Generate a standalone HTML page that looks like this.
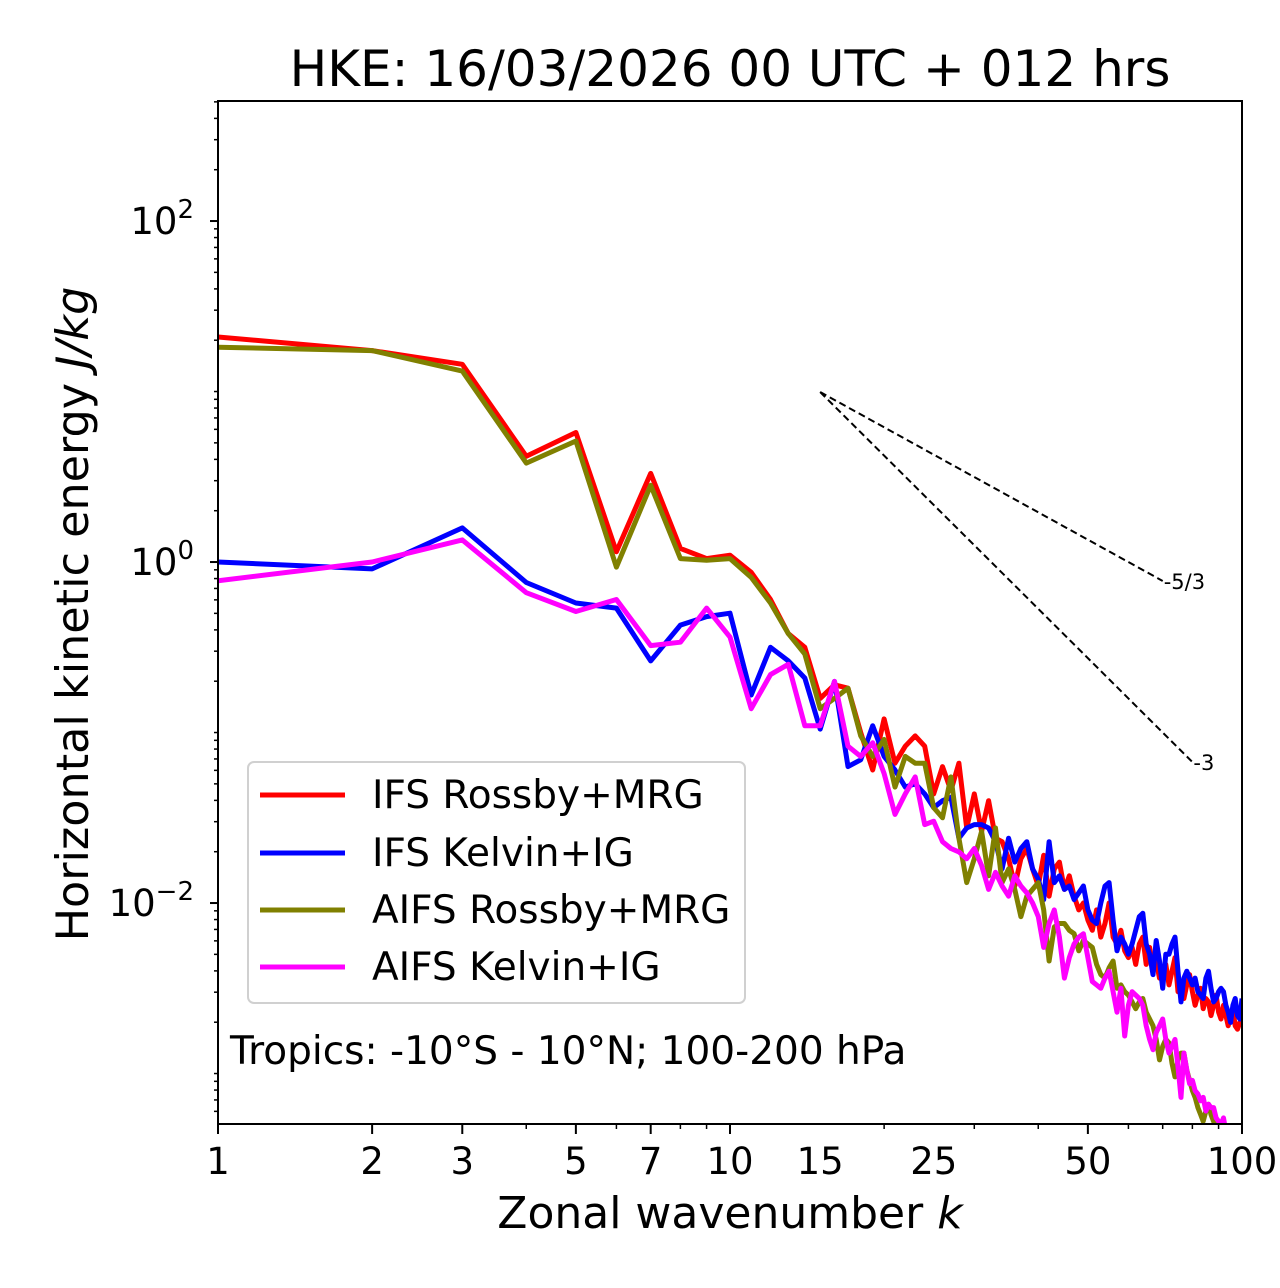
<!DOCTYPE html>
<html><head><meta charset="utf-8"><style>
body{margin:0;background:#fff}
svg{display:block;font-family:"DejaVu Sans","Liberation Sans",sans-serif}
</style></head><body>
<svg id="chart" width="1280" height="1288" viewBox="0 0 1280 1288" xmlns="http://www.w3.org/2000/svg">
<rect width="1280" height="1288" fill="#fff"/>
<text x="730" y="86" font-size="50" text-anchor="middle">HKE: 16/03/2026 00 UTC + 012 hrs</text>
<defs><clipPath id="plotclip"><rect x="218" y="101" width="1024" height="1023"/></clipPath></defs>
<g id="ticks"></g>
<g id="series" clip-path="url(#plotclip)"></g>
<rect x="218" y="101" width="1024" height="1023" fill="none" stroke="#000" stroke-width="2"/>
<text x="730" y="1228" font-size="44" text-anchor="middle">Zonal wavenumber <tspan font-style="italic">k</tspan></text>
<text transform="translate(88,614) rotate(-90)" font-size="44.5" text-anchor="middle">Horizontal kinetic energy <tspan font-style="italic">J/kg</tspan></text>
<g>
<rect x="248" y="762" width="497" height="241" rx="6" fill="#fff" fill-opacity="0.8" stroke="#d0d0d0" stroke-width="2"/>
<line x1="260" y1="795" x2="345" y2="795" stroke="#ff0000" stroke-width="5"/>
<text x="372" y="808" font-size="39">IFS Rossby+MRG</text>
<line x1="260" y1="853" x2="345" y2="853" stroke="#0000ff" stroke-width="5"/>
<text x="372" y="866" font-size="39">IFS Kelvin+IG</text>
<line x1="260" y1="910" x2="345" y2="910" stroke="#808000" stroke-width="5"/>
<text x="372" y="923" font-size="39">AIFS Rossby+MRG</text>
<line x1="260" y1="967" x2="345" y2="967" stroke="#ff00ff" stroke-width="5"/>
<text x="372" y="980" font-size="39">AIFS Kelvin+IG</text>
</g>
<text x="230" y="1064" font-size="39">Tropics: -10°S - 10°N; 100-200 hPa</text>
</svg>
<script>
// log10 energy values (J/kg) for k = 1..100
const ifsRossby=[1.32,1.24,1.16,0.62,0.76,0.06,0.52,0.08,0.02,0.04,
-0.06,-0.22,-0.42,-0.50,-0.80,-0.72,-0.74,-1.00,-1.22,-0.92,
-1.18,-1.08,-1.02,-1.08,-1.36,-1.20,-1.34,-1.18,-1.56,-1.36,
-1.58,-1.40,-1.62,-1.64,-1.74,-1.90,-1.74,-1.68,-1.80,-1.90,
-1.72,-1.96,-1.80,-1.76,-1.92,-1.84,-1.96,-2.04,-2.00,-2.10,
-2.16,-2.04,-2.20,-2.12,-2.00,-2.20,-2.24,-2.16,-2.28,-2.32,
-2.26,-2.36,-2.24,-2.20,-2.36,-2.26,-2.40,-2.34,-2.44,-2.38,
-2.36,-2.48,-2.40,-2.32,-2.52,-2.46,-2.56,-2.48,-2.42,-2.52,
-2.60,-2.54,-2.50,-2.62,-2.56,-2.58,-2.66,-2.60,-2.54,-2.64,
-2.68,-2.60,-2.66,-2.72,-2.66,-2.62,-2.72,-2.74,-2.70,-2.72];
const ifsKelvin=[0,-0.04,0.20,-0.12,-0.24,-0.27,-0.58,-0.37,-0.32,-0.30,
-0.78,-0.50,-0.58,-0.68,-0.98,-0.70,-1.20,-1.16,-0.96,-1.14,
-1.22,-1.32,-1.30,-1.36,-1.44,-1.40,
-1.38,-1.62,-1.56,-1.54,-1.54,-1.56,-1.64,-1.80,-1.62,-1.76,-1.68,-1.64,-1.80,-1.86,
-1.98,-1.64,-1.88,-1.84,-1.92,-1.90,-1.98,-1.94,-1.90,-2.04,
-2.10,-2.12,-2.00,-1.90,-1.88,-2.10,-2.28,-2.20,-2.24,-2.30,
-2.24,-2.16,-2.08,-2.06,-2.24,-2.30,-2.42,-2.22,-2.34,-2.50,
-2.30,-2.30,-2.24,-2.20,-2.40,-2.58,-2.44,-2.40,-2.44,-2.48,
-2.44,-2.52,-2.54,-2.56,-2.44,-2.40,-2.50,-2.58,-2.56,-2.52,
-2.50,-2.52,-2.60,-2.64,-2.70,-2.60,-2.56,-2.66,-2.68,-2.56];
const aifsRossby=[1.26,1.24,1.12,0.58,0.71,-0.03,0.45,0.02,0.01,0.02,
-0.09,-0.24,-0.42,-0.54,-0.86,-0.80,-0.74,-1.02,-1.14,-1.04,
-1.32,-1.14,-1.18,-1.18,-1.44,-1.50,-1.26,-1.62,
-1.88,-1.74,-1.58,-1.84,-1.56,-1.88,-1.80,-1.92,-2.08,-1.96,-1.92,-1.88,
-2.04,-2.34,-2.14,-2.12,-2.12,-2.16,-2.18,-2.28,-2.22,-2.24,
-2.26,-2.36,-2.42,-2.44,-2.38,-2.34,-2.50,-2.48,-2.52,-2.54,
-2.58,-2.62,-2.58,-2.56,-2.64,-2.68,-2.72,-2.80,-2.92,-2.84,
-2.80,-2.82,-2.94,-3.02,-2.92,-2.88,-2.88,-2.98,-3.04,-3.10,
-3.14,-3.20,-3.24,-3.28,-3.22,-3.18,-3.24,-3.28,-3.32,-3.36,
-3.34,-3.40,-3.44,-3.42,-3.48,-3.52,-3.56,-3.54,-3.60,-3.64];
const aifsKelvin=[-0.11,0,0.13,-0.18,-0.29,-0.22,-0.49,-0.47,-0.27,-0.44,
-0.86,-0.66,-0.60,-0.96,-0.96,-0.70,-1.08,-1.14,-1.06,-1.24,
-1.48,-1.36,-1.26,-1.54,-1.52,
-1.64,-1.68,-1.70,-1.74,-1.68,-1.78,-1.92,-1.82,-1.90,-1.96,
-1.84,-1.90,-1.94,-2.00,-2.08,-2.26,-2.12,-2.04,-2.20,-2.44,
-2.32,-2.24,-2.20,-2.18,-2.32,-2.46,-2.48,-2.50,-2.44,-2.40,
-2.52,-2.64,-2.50,-2.78,-2.60,-2.52,-2.54,-2.56,-2.60,-2.72,
-2.80,-2.86,-2.76,-2.72,-2.68,-2.80,-2.88,-2.84,-2.80,-2.96,
-3.14,-2.88,-2.98,-3.06,-3.04,-3.10,-3.12,-3.16,-3.14,-3.22,
-3.18,-3.20,-3.20,-3.26,-3.28,-3.30,-3.26,-3.34,-3.32,-3.40,
-3.44,-3.48,-3.50,-3.54,-3.58];
const xTickLabels=[1,2,3,5,7,10,15,25,50,100];
const yTickExps=[-2,0,2];
const refK=[15,70,80];
const refLog=[0.997,-0.111,-1.173];

const NS="http://www.w3.org/2000/svg";
const X0=218,X1=1242,Y0=101,Y1=1124;
const yMin=-3.296,yMax=2.704;
function xs(k){return X0+(X1-X0)*Math.log10(k)/2;}
function ys(lg){return Y1-(Y1-Y0)*(lg-yMin)/(yMax-yMin);}
function mk(tag,attrs,parent){const e=document.createElementNS(NS,tag);for(const a in attrs)e.setAttribute(a,attrs[a]);parent.appendChild(e);return e;}

const tg=document.getElementById('ticks');
for(let d=0;d<2;d++)for(let m=1;m<10;m++){
  const k=m*Math.pow(10,d);const x=xs(k);
  const lab=xTickLabels.includes(k);
  const t=mk('line',{x1:x,x2:x,y1:Y1,y2:Y1+(lab?10:5),stroke:'#000','stroke-width':lab?2:1.5},tg);
  
  
}
{const t=mk('line',{x1:X1,x2:X1,y1:Y1,y2:Y1+10,stroke:'#000','stroke-width':2},tg);

}
xTickLabels.forEach(k=>{
  const t=mk('text',{x:xs(k),y:1174,'font-size':37,'text-anchor':'middle'},tg);
  t.textContent=k;
  
  
});
for(let e=-4;e<=2;e++)for(let m=1;m<10;m++){
  const lg=e+Math.log10(m);if(lg<yMin||lg>yMax)continue;
  const y=ys(lg);const major=(m===1&&e%2===0);
  const t=mk('line',{x1:X0-(major?8:4),x2:X0,y1:y,y2:y,stroke:'#000','stroke-width':major?2:1.5},tg);
  
  
}
yTickExps.forEach(e=>{
  const t=mk('text',{x:194,y:ys(e)+13,'font-size':37,'text-anchor':'end'},tg);
  t.textContent='10';
  const s=mk('tspan',{dy:-16,'font-size':26},t);
  s.textContent=e<0?'\u2212'+(-e):String(e);
  
  
});

const sg=document.getElementById('series');
[['ifs-rossby-line',ifsRossby,'#ff0000'],['ifs-kelvin-line',ifsKelvin,'#0000ff'],['aifs-rossby-line',aifsRossby,'#808000'],['aifs-kelvin-line',aifsKelvin,'#ff00ff']].forEach(([n,arr,c])=>{
  const pts=arr.map((v,i)=>xs(i+1).toFixed(1)+','+ys(v).toFixed(1)).join(' ');
  const p=mk('polyline',{points:pts,fill:'none',stroke:c,'stroke-width':5,'stroke-linejoin':'round'},sg);
  
  
});
[[1,'-5/3'],[2,'-3']].forEach(([i,lab])=>{
  const l=mk('line',{x1:xs(refK[0]),y1:ys(refLog[0]),x2:xs(refK[i]),y2:ys(refLog[i]),stroke:'#000','stroke-width':2,'stroke-dasharray':'7,4'},sg);
  
  
  const t=mk('text',{x:xs(refK[i])+1,y:ys(refLog[i])+8,'font-size':21},sg);
  t.textContent=lab;
  
  
});
</script>
</body></html>
